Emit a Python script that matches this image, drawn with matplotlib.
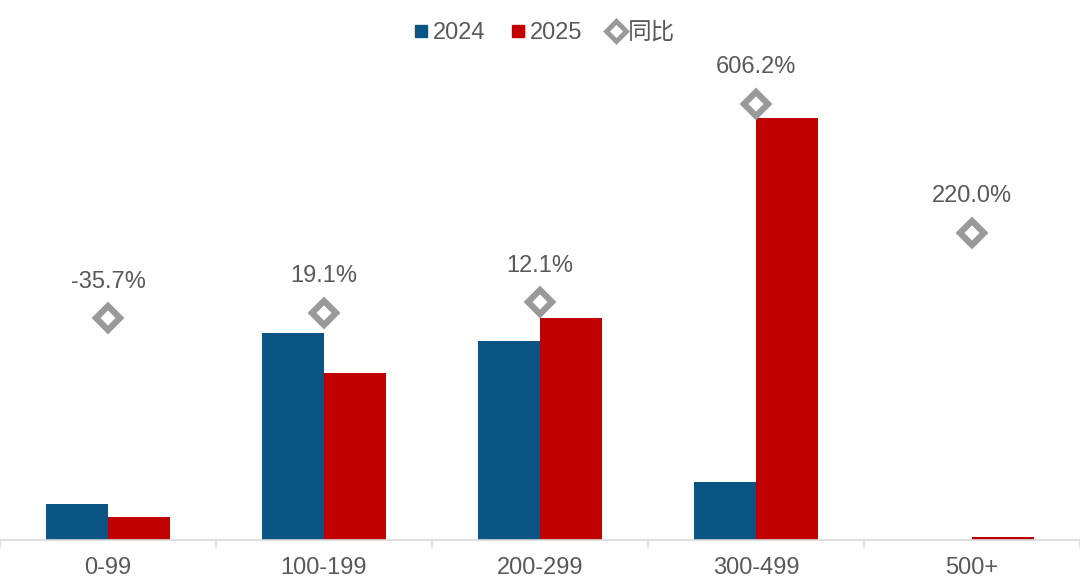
import matplotlib.pyplot as plt
from matplotlib.lines import Line2D

plt.rcParams['font.family'] = ['Liberation Sans', 'Noto Sans CJK SC', 'DejaVu Sans']

categories = ['0-99', '100-199', '200-299', '300-499', '500+']
sales_2024 = [3.6, 20.7, 19.9, 5.8, 0.0]
sales_2025 = [2.3, 16.7, 22.2, 42.2, 0.35]
yoy = [-35.7, -19.1, 12.1, 606.2, 220.0]
yoy_labels = ['-35.7%', '19.1%', '12.1%', '606.2%', '220.0%']

blue = '#0b5585'
red = '#c00000'
grey = '#999999'
text_c = '#595959'

fig = plt.figure(figsize=(10.8, 5.87), dpi=100)
ax = fig.add_axes([0, 47 / 587, 1, 480 / 587])

x = list(range(len(categories)))
w = 0.287
ax.bar([i - w / 2 for i in x], sales_2024, width=w, color=blue)
ax.bar([i + w / 2 for i in x], sales_2025, width=w, color=red)
ax.set_ylim(0, 48)
ax.set_xlim(-0.5, 4.5)

for s in ['top', 'right', 'left']:
    ax.spines[s].set_visible(False)
ax.spines['bottom'].set_color('#d9d9d9')
ax.spines['bottom'].set_linewidth(1.2)
ax.set_yticks([])
ax.set_xticks(x)
ax.set_xticklabels(categories, fontsize=17, color=text_c)
ax.tick_params(axis='x', which='major', length=0, pad=12)
ax.set_xticks([i - 0.5 for i in range(len(categories) + 1)], minor=True)
ax.tick_params(axis='x', which='minor', length=6, color='#d9d9d9', width=1.2)

ax2 = ax.twinx()
ax2.set_ylim(-698, 737)
ax2.axis('off')
ax2.plot(x, yoy, linestyle='none', marker='D', markersize=12.5,
         markerfacecolor='white', markeredgecolor=grey, markeredgewidth=4.5)
for i, (v, lab) in enumerate(zip(yoy, yoy_labels)):
    ax2.annotate(lab, (i, v), xytext=(0, 26.5), textcoords='offset points',
                 ha='center', va='center', fontsize=17, color=text_c)

handles = [
    Line2D([], [], linestyle='none', marker='s', markersize=9, color=blue),
    Line2D([], [], linestyle='none', marker='s', markersize=9, color=red),
    Line2D([], [], linestyle='none', marker='D', markersize=10,
           markerfacecolor='white', markeredgecolor=grey, markeredgewidth=3.5),
]
fig.legend(handles, ['2024', '2025', '同比'], loc='center', bbox_to_anchor=(0.503, 1 - 33 / 587),
           ncol=3, frameon=False, fontsize=17, labelcolor=text_c,
           handletextpad=0.1, columnspacing=1.0, handlelength=0.8)

fig.savefig('out.png', dpi=100)
